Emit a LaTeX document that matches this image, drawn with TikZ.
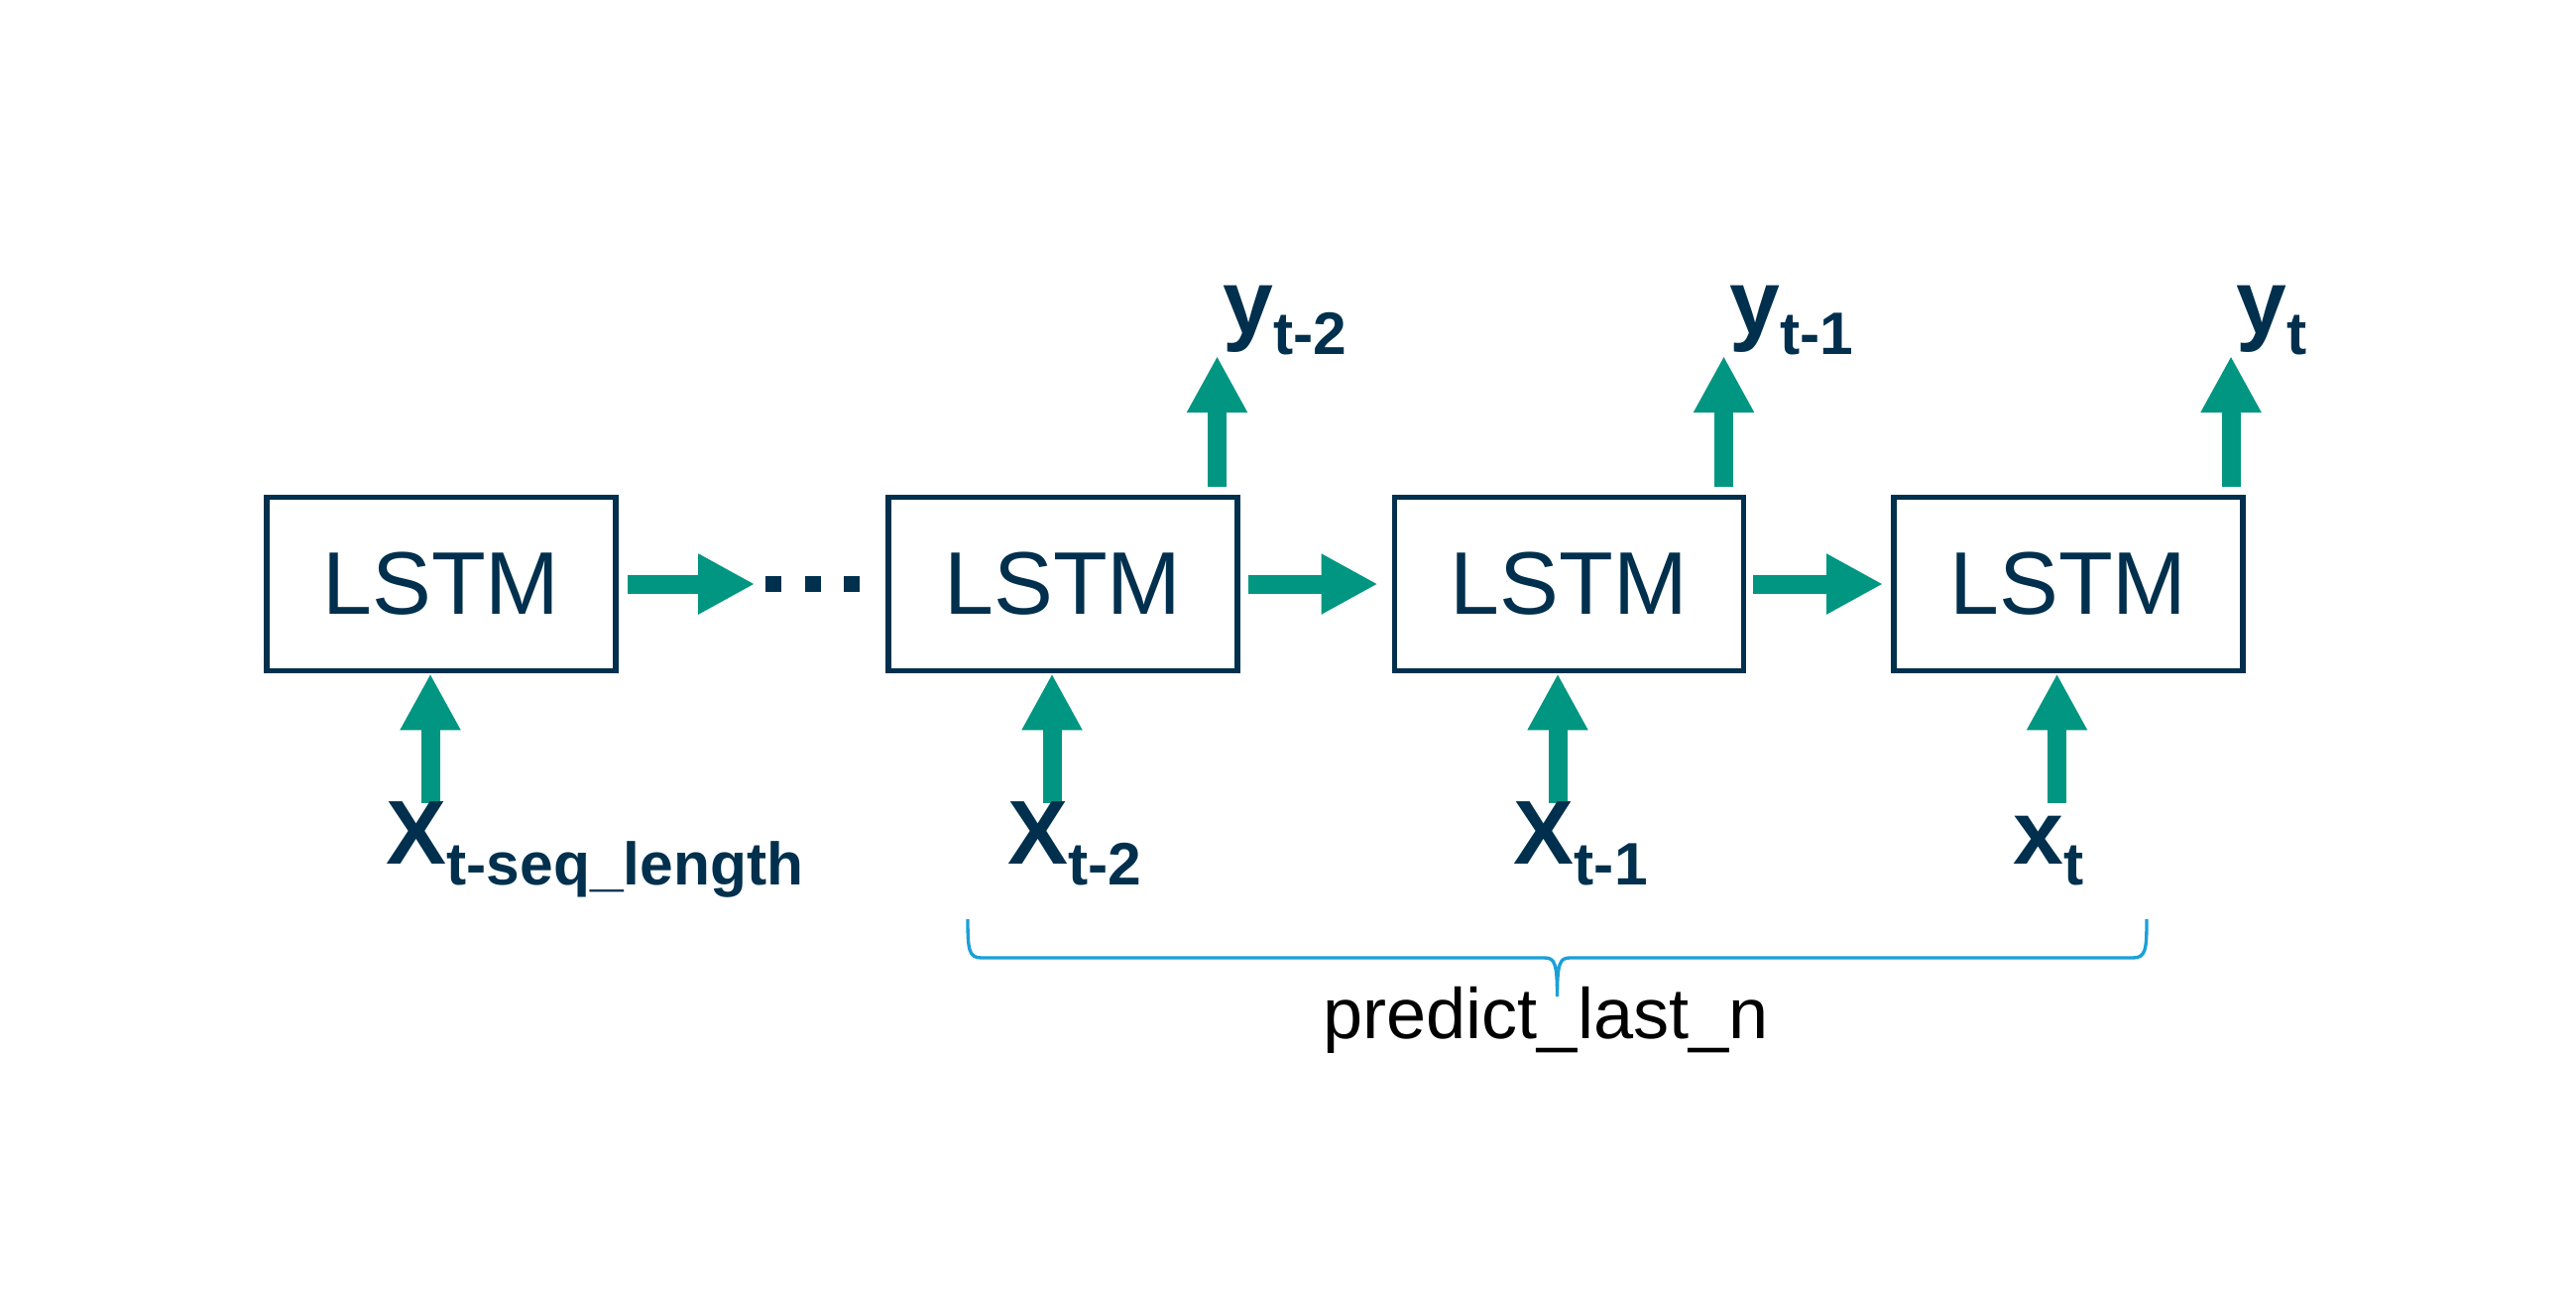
\documentclass[tikz,border=0pt]{standalone}
\usepackage{fontspec}
\setmainfont{Liberation Sans}
\usepackage{tikz}
\usetikzlibrary{arrows.meta,calc}
\definecolor{lstmnavy}{RGB}{0,48,77}
\definecolor{flowgreen}{RGB}{0,150,129}
\definecolor{braceblue}{RGB}{26,160,216}
\newcommand{\seqlabel}[2]{\textbf{\fontsize{26}{26}\selectfont #1\raisebox{-6.2pt}{\fontsize{17.2}{17.2}\selectfont #2}}}

\begin{document}
\begin{tikzpicture}[x=0.01cm,y=-0.01cm,
  lstm/.style={draw=lstmnavy,line width=1.6pt,minimum width=3.52cm,minimum height=1.75cm,
    inner sep=0pt,text=lstmnavy,font=\fontsize{25.5}{25.5}\selectfont},
  flow/.style={flowgreen,line width=1.9mm,-{Triangle[width=5.7mm,length=5.7mm]}},
  lbl/.style={text=lstmnavy,inner sep=0pt,anchor=base west}]
  \useasboundingbox (0,0) rectangle (2598,1299);
  % LSTM cells
  \node[lstm] (b1) at (445,589) {LSTM};
  \node[lstm] (b2) at (1072,589) {LSTM};
  \node[lstm] (b3) at (1582.5,589) {LSTM};
  \node[lstm] (b4) at (2086,589) {LSTM};
  % Skipped cells
  \node[inner sep=0pt,minimum width=9.6mm,minimum height=1.6mm] (dots) at (819,589) {};
  \foreach \dx in {-39.5,1,39.5}
    \fill[lstmnavy] ($(dots.center)+(\dx,0)$) ++(-8,-8) rectangle ++(16,16);
  % Hidden state
  \draw[flow,shorten <=0.9mm,shorten >=0.9mm] (b1.east) -- (dots.west);
  \draw[flow,shorten <=0.8mm,shorten >=1.4mm] (b2.east) -- (b3.west);
  \draw[flow,shorten <=0.7mm,shorten >=0.8mm] (b3.east) -- (b4.west);
  % Inputs
  \coordinate (i1) at (434,810);
  \coordinate (i2) at (1061,810);
  \coordinate (i3) at (1571,810);
  \coordinate (i4) at (2074.5,810);
  \draw[flow] (i1) -- (i1 |- b1.south);
  \draw[flow] (i2) -- (i2 |- b2.south);
  \draw[flow] (i3) -- (i3 |- b3.south);
  \draw[flow] (i4) -- (i4 |- b4.south);
  \node[lbl] (x1) at ($(i1)+(-45,61)$) {\seqlabel{X}{t-seq\_length}};
  \node[lbl] (x2) at ($(i2)+(-45,61)$) {\seqlabel{X}{t-2}};
  \node[lbl] (x3) at ($(i3)+(-45,61)$) {\seqlabel{X}{t-1}};
  \node[lbl] (x4) at ($(i4)+(-45,61)$) {\seqlabel{x}{t}};
  % Outputs
  \coordinate (o2) at (1227.5,359);
  \coordinate (o3) at (1738.5,359);
  \coordinate (o4) at (2250,359);
  \draw[flow,shorten <=0.8mm] (o2 |- b2.north) -- (o2);
  \draw[flow,shorten <=0.8mm] (o3 |- b3.north) -- (o3);
  \draw[flow,shorten <=0.8mm] (o4 |- b4.north) -- (o4);
  \node[lbl] (y2) at ($(o2)+(5,-23)$) {\seqlabel{y}{t-2}};
  \node[lbl] (y3) at ($(o3)+(5,-23)$) {\seqlabel{y}{t-1}};
  \node[lbl] (y4) at ($(o4)+(5,-23)$) {\seqlabel{y}{t}};
  % Brace over the predicted steps
  \coordinate (bl) at (976,927);
  \coordinate (br) at (2165,927);
  \coordinate (btip) at (1570.5,1005);
  \draw[braceblue,line width=0.95pt] (bl) .. controls (976,958) and (977,966) .. (990,966)
    -- (1558,966) .. controls (1568,966) and (1570.5,972) .. (btip)
    .. controls (1570.5,972) and (1573,966) .. (1583,966)
    -- (2151,966) .. controls (2164,966) and (2165,958) .. (br);
  \node[inner sep=0pt,anchor=base,font=\fontsize{20.5}{20.5}\selectfont] (plast) at (1559,1047) {predict\_last\_n};
\end{tikzpicture}
\end{document}
